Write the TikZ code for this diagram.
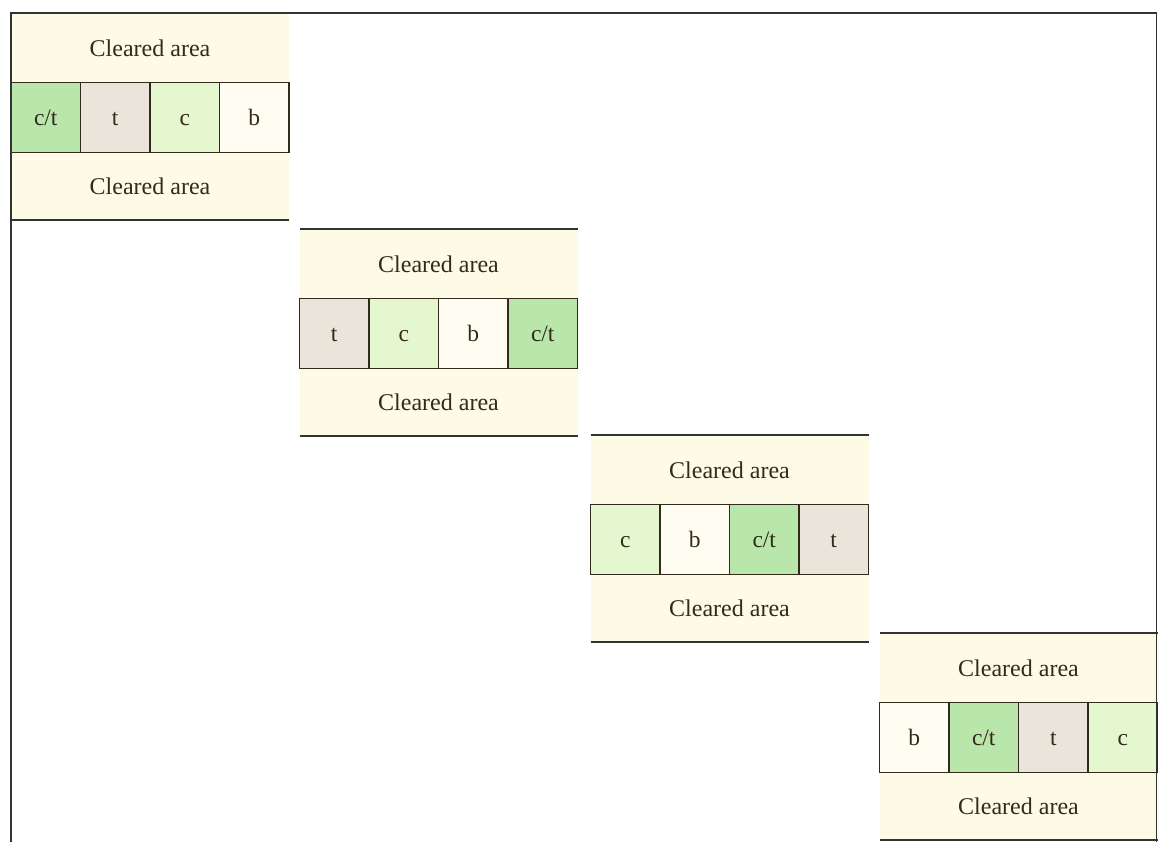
\documentclass[tikz,border=0pt]{standalone}
\usepackage{fontspec}
\setmainfont{Liberation Serif}
\definecolor{cream}{HTML}{FDFBE6}
\definecolor{ctgreen}{HTML}{B9E6AB}
\definecolor{tgray}{HTML}{EAE4DA}
\definecolor{cgreen}{HTML}{E4F7CF}
\definecolor{bwhite}{HTML}{FFFDF1}
\definecolor{ink}{HTML}{33291C}
\definecolor{rulecol}{HTML}{333333}
\tikzset{
  x=1pt, y=-1pt,
  rulebar/.style={draw=rulecol, line width=1.8pt},
  cell/.style={draw=ink, line width=1.4pt, minimum width=69.5pt, minimum height=70pt,
    inner sep=0pt, outer sep=0pt, text=ink, text height=16pt, text depth=0pt,
    font=\fontsize{23.5}{26}\selectfont},
  cellct/.style={cell, fill=ctgreen, node contents={c/t}},
  cellt/.style={cell, fill=tgray, node contents={t}},
  cellc/.style={cell, fill=cgreen, node contents={c}},
  cellb/.style={cell, fill=bwhite, node contents={b}},
  cleared/.style={text=ink, inner sep=0pt, font=\fontsize{24}{26}\selectfont}
}
% #1 name, #2 left x, #3 top y, #4-#7 cell styles from left to right
\newcommand\clearedblock[7]{%
  \fill[cream] (#2,#3) rectangle ({#2+278},{#3+207});
  \draw[rulebar] (#2,#3) -- ({#2+278},#3);
  \draw[rulebar] (#2,{#3+207}) -- ({#2+278},{#3+207});
  \node[cleared] (#1-top) at ({#2+139},{#3+35}) {Cleared area};
  \node[cleared] (#1-bot) at ({#2+139},{#3+173}) {Cleared area};
  \node[#4, name=#1-1, at={({#2+34.75},{#3+104.5})}];
  \node[#5, name=#1-2, at={({#2+104.25},{#3+104.5})}];
  \node[#6, name=#1-3, at={({#2+173.75},{#3+104.5})}];
  \node[#7, name=#1-4, at={({#2+243.25},{#3+104.5})}];
}
\begin{document}
\begin{tikzpicture}
  \useasboundingbox[fill=white] (0,0) rectangle (1158,842);
  \clearedblock{s1}{11}{13}{cellct}{cellt}{cellc}{cellb}
  \clearedblock{s2}{299.5}{229}{cellt}{cellc}{cellb}{cellct}
  \clearedblock{s3}{590.5}{435}{cellc}{cellb}{cellct}{cellt}
  \clearedblock{s4}{879.5}{633}{cellb}{cellct}{cellt}{cellc}
  % outer frame
  \draw[rulebar] (11,842) -- (11,13) -- (1156.5,13) -- (1156.5,842);
\end{tikzpicture}
\end{document}
